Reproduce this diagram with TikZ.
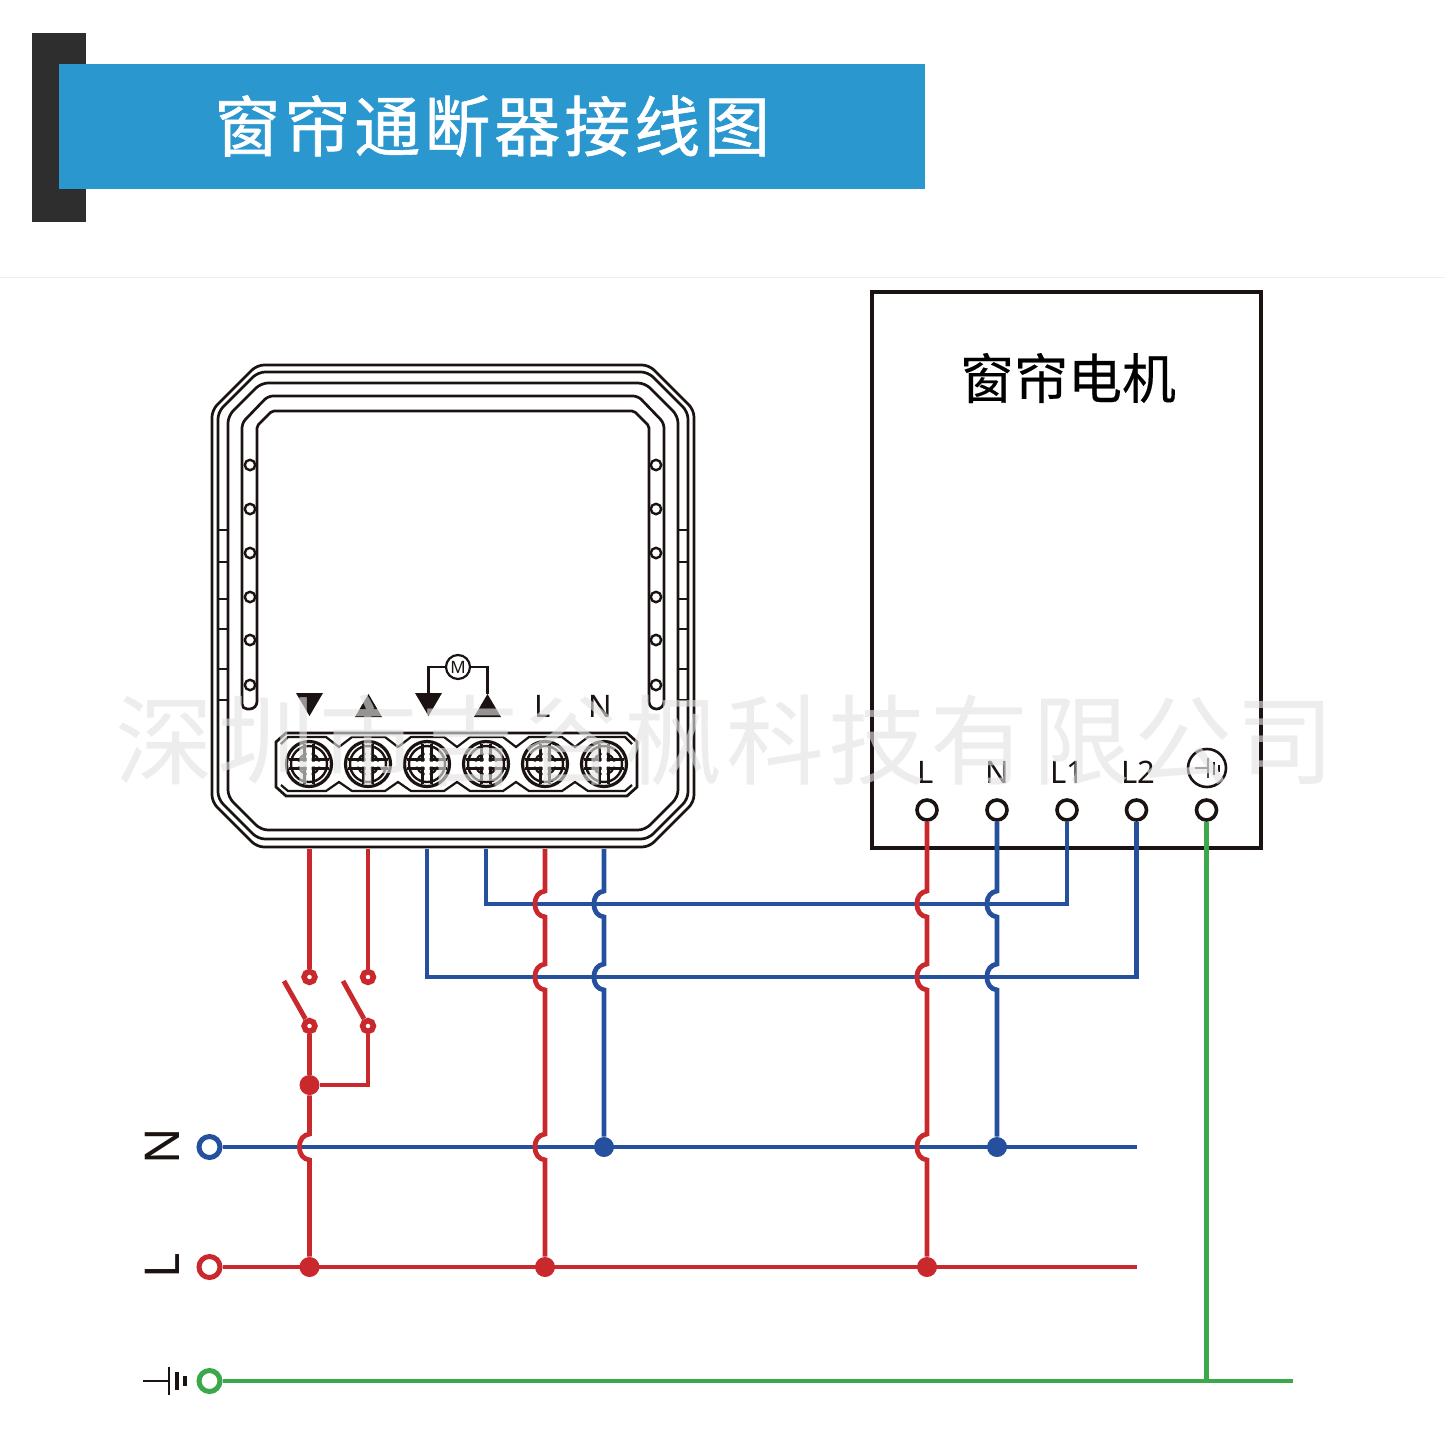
\documentclass[tikz,border=0pt]{standalone}
\usepackage{fontspec}
\setmainfont{Noto Sans}
\newfontfamily\cjk[FakeBold=0.3]{Noto Sans CJK SC}
\newfontfamily\cjktitle[LetterSpace=6,FakeBold=0.9]{Noto Sans CJK SC}
\newfontfamily\cjkwm[LetterSpace=4]{Noto Sans CJK SC}
\definecolor{wred}{HTML}{C9282D}
\definecolor{wblue}{HTML}{25509E}
\definecolor{wgreen}{HTML}{3AA84B}
\definecolor{barblue}{HTML}{2A98CF}
\definecolor{bardark}{HTML}{2E2E2E}
\definecolor{ink}{HTML}{1A1311}
\newcommand{\hopat}[2]{-- (#1,{#2-13}) .. controls ({#1-6},{#2-12}) and ({#1-10},{#2-8}) .. ({#1-10},#2) .. controls ({#1-10},{#2+8}) and ({#1-6},{#2+12}) .. (#1,{#2+13})}
\newcommand{\octa}[5]{\draw[devline,rounded corners=3.5pt] ({#1+#5},#2) -- ({#3-#5},#2) -- (#3,{#2+#5}) -- (#3,{#4-#5}) -- ({#3-#5},#4) -- ({#1+#5},#4) -- (#1,{#4-#5}) -- (#1,{#2+#5}) -- cycle;}
\tikzset{
  x=0.5pt,y=-0.5pt,
  devline/.style={draw=ink,line width=1.35pt},
  wire/.style={line width=2.4pt,line join=miter},
  redw/.style={wire,draw=wred},
  bluew/.style={wire,draw=wblue},
  greenw/.style={wire,draw=wgreen},
  motorterm/.style={circle,draw=ink,fill=white,line width=1.8pt,minimum size=10pt,inner sep=0pt},
  mainsterm/.style={circle,fill=white,line width=2.5pt,minimum size=10.5pt,inner sep=0pt},
  contact/.style={circle,draw=wred,fill=white,line width=2.8pt,minimum size=5.4pt,inner sep=0pt},
  junction/.style={circle,inner sep=0pt,minimum size=10pt},
  hole/.style={circle,draw=ink,fill=white,line width=1.2pt,minimum size=5.2pt,inner sep=0pt},
  lab/.style={font=\fontsize{15.5}{16}\selectfont,text=ink,inner sep=0pt},
  sidelab/.style={font=\fontsize{24}{24}\selectfont,text=ink,inner sep=0pt,rotate=90},
  tri/.style={fill=ink,draw=none},
  screw/.pic={
    \draw[ink,line width=1.6pt] (0,0) circle[radius=22.5];
    \draw[ink,line width=1.2pt] (0,0) circle[radius=18];
    \draw[ink,line width=1.1pt] (0,0) circle[radius=10.5];
    \draw[ink,line width=1.1pt] (-4.5,-20) -- (-4.5,20) (4.5,-20) -- (4.5,20) (-20,-4.5) -- (20,-4.5) (-20,4.5) -- (20,4.5);
    \fill[white] (-2.5,-13) rectangle (2.5,13) (-13,-2.5) rectangle (13,2.5);
  }
}
\begin{document}
\begin{tikzpicture}
\useasboundingbox (0,0) rectangle (1445,1445);
\fill[white] (0,0) rectangle (1445,1445);
% header
\fill[bardark] (32,33) rectangle (86,222);
\fill[barblue] (59,64) rectangle (925,188.5);
\node[font=\cjktitle\fontsize{33}{33}\selectfont,text=white,inner sep=0pt,anchor=west] (title) at (214,126) {窗帘通断器接线图};
\draw[gray!12,line width=.5pt] (0,277) -- (1445,277);
% motor box
\node[draw=ink,line width=1.7pt,minimum width=194.5pt,minimum height=278pt,inner sep=0pt,outer sep=0pt,anchor=north west] (motor) at (872,292) {};
\node[font=\cjk\fontsize{27}{27}\selectfont,text=black,inner sep=0pt] (motortitle) at (1068,378) {窗帘电机};
% device outlines
\octa{212}{365}{694}{847}{45}
\octa{218}{372}{688}{839}{40}
\octa{228}{383}{678}{830}{33}
\draw[devline] [rounded corners=3.7pt] (242,709) -- (257,709) [rounded corners=1pt] -- (257,426) -- (272,411) -- (634,411) -- (649,426) -- (649,700) [rounded corners=3.7pt] -- (649,709) -- (664,709) [rounded corners=2.5pt] -- (664,423) -- (638,396) -- (268,396) -- (242,423) -- cycle;
% side tabs
\foreach \yy in {530,562,599,629,669,700}{
  \draw[devline,line width=1.1pt] (218,\yy) -- (228,\yy);
  \draw[devline,line width=1.1pt] (678,\yy) -- (688,\yy);
}
% holes
\foreach \yy/\nn in {465/1,509/2,553/3,597/4,640/5,685/6}{
  \node[hole] (hl\nn) at (250,\yy) {};
  \node[hole] (hr\nn) at (656,\yy) {};
}
% terminal block
\draw[devline] (286,733) -- (627,733) -- (637,742) -- (637,787) -- (627,796) -- (286,796) -- (276,787) -- (276,742) -- cycle;
\draw[ink,line width=1.1pt] (281,744) -- (288,737) -- (326,737) -- (339,747) -- (352,737) -- (385,737) -- (398,747) -- (411,737) -- (444,737) -- (457,747) -- (470,737) -- (503,737) -- (516,747) -- (529,737) -- (562,737) -- (575,747) -- (588,737) -- (625,737) -- (632,744);
\draw[ink,line width=1.1pt] (281,785) -- (288,791) -- (326,791) -- (339,782) -- (352,791) -- (385,791) -- (398,782) -- (411,791) -- (444,791) -- (457,782) -- (470,791) -- (503,791) -- (516,782) -- (529,791) -- (562,791) -- (575,782) -- (588,791) -- (625,791) -- (632,785);
\foreach \xx in {309,368,427,486,545,604}{ \pic at (\xx,764) {screw}; }
% device markings
\fill[tri] (296,693) -- (323,693) -- (309.5,716) -- cycle;
\fill[tri] (355,717) -- (382,717) -- (368.5,694) -- cycle;
\fill[tri] (415,693) -- (442,693) -- (428.5,716) -- cycle;
\fill[tri] (474,717) -- (501,717) -- (487.5,694) -- cycle;
\node[circle,draw=ink,line width=1.1pt,minimum size=12pt,inner sep=0pt,font=\fontsize{8.5}{9}\selectfont,text=ink] (mm) at (458,667) {M};
\coordinate (mleft) at (428.5,693);
\coordinate (mright) at (487.5,694);
\draw[ink,line width=1.1pt] (mm.west) -| (mleft);
\draw[ink,line width=1.1pt] (mm.east) -| (mright);
\node[lab] (dL) at (543,706) {L};
\node[lab] (dN) at (600,706) {N};
% motor terminals
\node[motorterm] (tL) at (927,810) {};
\node[motorterm] (tN) at (997,810) {};
\node[motorterm] (tA) at (1067,810) {};
\node[motorterm] (tB) at (1136.5,810) {};
\node[motorterm] (tE) at (1206.5,810) {};
\node[lab] (lL) at (926,772) {L};
\node[lab] (lN) at (997,772) {N};
\node[lab] (lA) at (1067,772) {L1};
\node[lab] (lB) at (1138,772) {L2};
\node[circle,draw=ink,line width=1.3pt,minimum size=19pt,inner sep=0pt] (ge) at (1207,768) {};
\draw[ink!80,line width=.9pt] (1195,768) -- (1208,768) (1208,758) -- (1208,778);
\draw[ink,line width=1pt] (1214,762) -- (1214,775);
\draw[ink,line width=1pt] (1219,765) -- (1219,772);
% mains terminals
\node[mainsterm,draw=wblue] (mN) at (209.5,1147) {};
\node[mainsterm,draw=wred] (mL) at (209.5,1267) {};
\node[mainsterm,draw=wgreen] (mG) at (209.5,1381) {};
\node[sidelab] (sN) at (162,1146) {N};
\node[sidelab] (sL) at (162,1266) {L};
\draw[ink,line width=1.4pt] (143,1381) -- (169,1381) (169,1367) -- (169,1395);
\draw[ink,line width=1.7pt] (177,1372) -- (177,1390);
\draw[ink,line width=2.2pt] (185,1376) -- (185,1386);
% free ends
\coordinate (p1) at (309.5,849);
\coordinate (p2) at (368,849);
\coordinate (p3) at (427,849);
\coordinate (p4) at (486,849);
\coordinate (p5) at (545,849);
\coordinate (p6) at (604,849);
\coordinate (eN) at (1136.5,1147);
\coordinate (eL) at (1136.5,1267);
\coordinate (eG) at (1293,1381);
\coordinate (gT) at (1206.5,1381);
% contacts and junctions
\node[contact] (c1) at (309.5,977) {};
\node[contact] (c2) at (368,977) {};
\node[contact] (c3) at (309.5,1026) {};
\node[contact] (c4) at (368,1026) {};
\coordinate (b1) at (284,981);
\coordinate (b2) at (343,981);
\node[junction,fill=wred] (jS) at (309.5,1085) {};
\node[junction,fill=wred] (jL1) at (309.5,1267) {};
\node[junction,fill=wred] (jL2) at (545,1267) {};
\node[junction,fill=wred] (jL3) at (927,1267) {};
\node[junction,fill=wblue] (jN1) at (604,1147) {};
\node[junction,fill=wblue] (jN2) at (997,1147) {};
% horizontal wires
\draw[bluew] (mN) -- (eN);
\draw[redw] (mL) -- (eL);
\draw[greenw] (mG) -- (eG);
\draw[bluew] (p4) |- (486,904) -- (1067,904) -- (tA);
\draw[bluew] (p3) |- (427,977) -- (1136.5,977) -- (tB);
% vertical wires
\draw[redw] (p1) -- (c1);
\draw[redw] (p2) -- (c2);
\draw[redw] (b1) -- (c3);
\draw[redw] (b2) -- (c4);
\draw[redw] (c3) -- (jS);
\draw[redw] (c4) |- (jS);
\draw[redw] (jS) \hopat{309.5}{1147} -- (jL1);
\draw[redw] (p5) \hopat{545}{904} \hopat{545}{977} \hopat{545}{1147} -- (jL2);
\draw[bluew] (p6) \hopat{604}{904} \hopat{604}{977} -- (jN1);
\draw[redw] (tL) \hopat{927}{904} \hopat{927}{977} \hopat{927}{1147} -- (jL3);
\draw[bluew] (tN) \hopat{997}{904} \hopat{997}{977} -- (jN2);
\draw[greenw] (tE) -- (gT);
% watermark
\node[font=\cjkwm\fontsize{49}{49}\selectfont,text=black!11,opacity=.62,inner sep=0pt,anchor=west] (wm) at (115,740) {深圳市吉谷枫科技有限公司};
\end{tikzpicture}
\end{document}
